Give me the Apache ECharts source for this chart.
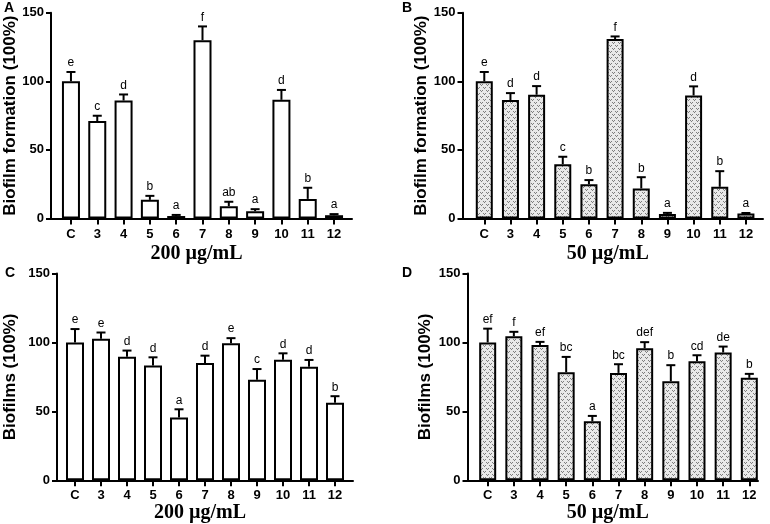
<!DOCTYPE html>
<html>
<head>
<meta charset="utf-8">
<script src="https://cdn.jsdelivr.net/npm/echarts@6/dist/echarts.min.js"></script>
<style>html,body{margin:0;padding:0;background:#fff;}#chart{width:770px;height:524px;}</style>
</head>
<body>
<div id="chart"></div>
<script>
// ---- data ----
const categories = ['C','3','4','5','6','7','8','9','10','11','12'];
const yTicks = [0, 50, 100, 150];

const meanA = [100, 71, 86, 13.6, 1.8, 130, 9, 5.3, 86.5, 14.3, 2.4];
const sdA   = [6.8, 3.9, 4.4, 2.9, 0.8, 10, 3.2, 1.5, 7.2, 8.1, 0.8];
const letA  = ['e','c','d','b','a','f','ab','a','d','b','a'];

const meanB = [100, 86.3, 90.2, 39.6, 25, 130.8, 21.9, 3.2, 89.7, 23.1, 3.6];
const sdB   = [6.8, 5.1, 6.3, 5.4, 3, 1.9, 8.2, 0.9, 6.6, 11.4, 0.4];
const letB  = ['e','d','d','c','b','f','b','a','d','b','a'];

const meanC = [100, 102.6, 89.7, 83.2, 45.5, 85.1, 99.4, 72.9, 87.5, 82.4, 56.2];
const sdC   = [9.7, 4.6, 4.4, 6, 6, 5.3, 3.7, 7.8, 4.6, 4.9, 4.8];
const letC  = ['e','e','d','d','a','d','e','c','d','d','b'];

const meanD = [100, 104.5, 98.2, 78.4, 42.8, 77.9, 95.8, 71.9, 86.4, 92.7, 74.3];
const sdD   = [10, 3.2, 2.2, 11.1, 3.9, 6.3, 4.4, 11.6, 4.3, 4.3, 2.9];
const letD  = ['ef','f','ef','bc','a','bc','def','b','cd','de','b'];

const yTitleTop = 'Biofilm formation (100%)';
const yTitleBottom = 'Biofilms (100%)';
const xTitle200 = '200 µg/mL';
const xTitle50 = '50 µg/mL';

// ---- pattern for dotted bars ----
const pc = document.createElement('canvas');
pc.width = 6; pc.height = 6;
const pctx = pc.getContext('2d');
pctx.fillStyle = '#e9e9e9'; pctx.fillRect(0, 0, 6, 6);
pctx.fillStyle = '#7d7d7d';
[[0,0],[2,0],[1,1],[3,3],[5,3],[4,4]].forEach(p => pctx.fillRect(p[0], p[1], 1, 1));
const patternFill = { image: pc, repeat: 'repeat' };

const SANS = '"Liberation Sans", Arial, sans-serif';
const SERIF = '"Liberation Serif", "Times New Roman", serif';

// ---- panel layout ----
const panels = [
  { mean: meanA, sd: sdA, lab: letA, fill: '#ffffff', yTitle: yTitleTop, xTitle: xTitle200,
    axisX: 51, rightX: 352, innerL: 57.8, innerR: 347.2, top: 12.7, zero: 218.5, nameGap: 32.5, xGap: 25, barW: 18, letter: 'A', lx: 4, ly: 1 },
  { mean: meanB, sd: sdB, lab: letB, fill: patternFill, yTitle: yTitleTop, xTitle: xTitle50,
    axisX: 462.5, rightX: 763, innerL: 471.2, innerR: 759, top: 12.7, zero: 218.5, nameGap: 31, xGap: 25, barW: 17, letter: 'B', lx: 402, ly: 1 },
  { mean: meanC, sd: sdC, lab: letC, fill: '#ffffff', yTitle: yTitleBottom, xTitle: xTitle200,
    axisX: 57, rightX: 353, innerL: 62, innerR: 348, top: 273.5, zero: 480.3, nameGap: 38, xGap: 23, barW: 18, letter: 'C', lx: 5, ly: 266 },
  { mean: meanD, sd: sdD, lab: letD, fill: patternFill, yTitle: yTitleBottom, xTitle: xTitle50,
    axisX: 467.5, rightX: 758, innerL: 474.6, innerR: 762.4, top: 273.5, zero: 480.3, nameGap: 34, xGap: 23, barW: 17, letter: 'D', lx: 402, ly: 266 }
];

const grid = [], xAxis = [], yAxis = [], series = [], graphic = [];

panels.forEach((p, k) => {
  const go = grid.length;
  grid.push({ left: p.axisX, top: p.top, width: p.rightX - p.axisX, height: p.zero - p.top, containLabel: false, outerBoundsMode: 'none' });
  grid.push({ left: p.innerL, top: p.top, width: p.innerR - p.innerL, height: p.zero - p.top, containLabel: false, outerBoundsMode: 'none' });
  // outer axes: axis lines, y labels, titles
  xAxis.push({
    gridIndex: go, type: 'value', min: 0, max: 1,
    axisLine: { show: true, lineStyle: { color: '#000', width: 2 } },
    axisTick: { show: false }, axisLabel: { show: false }, splitLine: { show: false },
    name: p.xTitle, nameLocation: 'middle', nameGap: p.xGap,
    nameTextStyle: { fontFamily: SERIF, fontWeight: 'bold', fontSize: 20, color: '#000', padding: [0, 10, 0, 0] }
  });
  yAxis.push({
    gridIndex: go, type: 'value', min: yTicks[0], max: yTicks[yTicks.length - 1], interval: 50,
    axisLine: { show: true, lineStyle: { color: '#000', width: 2 } },
    axisTick: { show: true, length: 5, lineStyle: { color: '#000', width: 2 } },
    axisLabel: { color: '#000', fontFamily: SANS, fontWeight: 'bold', fontSize: 13, margin: 7 },
    splitLine: { show: false },
    name: p.yTitle, nameLocation: 'middle', nameGap: p.nameGap, nameRotate: 90,
    nameTextStyle: { fontFamily: SANS, fontWeight: 'bold', fontSize: 17, color: '#000' }
  });
  // inner axes: categories
  xAxis.push({
    gridIndex: go + 1, type: 'category', data: categories, boundaryGap: true,
    axisLine: { show: false },
    axisTick: { show: true, alignWithLabel: true, length: 6, lineStyle: { color: '#000', width: 2 } },
    axisLabel: { color: '#000', fontFamily: SANS, fontWeight: 'bold', fontSize: 13, margin: 9, interval: 0 }
  });
  yAxis.push({
    gridIndex: go + 1, type: 'value', min: yTicks[0], max: yTicks[yTicks.length - 1], show: false
  });
  series.push({
    type: 'bar', xAxisIndex: go + 1, yAxisIndex: go + 1, barWidth: p.barW,
    data: p.mean,
    itemStyle: { color: p.fill, borderColor: '#000', borderWidth: 2 },
    silent: true, animation: false
  });
  const labs = p.lab;
  series.push({
    type: 'custom', xAxisIndex: go + 1, yAxisIndex: go + 1, z: 5, clip: false, animation: false,
    data: p.mean.map((m, i) => [i, m, p.sd[i]]),
    encode: { x: 0, y: 1 },
    renderItem: function (params, api) {
      const x = api.value(0), m = api.value(1), s = api.value(2);
      const b = api.coord([x, m]);
      const t = api.coord([x, m + s]);
      const cap = 4.5;
      return {
        type: 'group', children: [
          { type: 'line', shape: { x1: b[0], y1: b[1], x2: t[0], y2: t[1] }, style: { stroke: '#000', lineWidth: 2 } },
          { type: 'line', shape: { x1: t[0] - cap, y1: t[1], x2: t[0] + cap, y2: t[1] }, style: { stroke: '#000', lineWidth: 2 } },
          { type: 'text', style: { text: labs[params.dataIndex], x: t[0], y: t[1] - 9, align: 'center', verticalAlign: 'middle',
              font: '12px ' + SANS, fill: '#000' } }
        ]
      };
    }
  });
  graphic.push({ type: 'text', left: p.lx, top: p.ly,
    style: { text: p.letter, font: 'bold 14px ' + SANS, fill: '#000' } });
});

const chart = echarts.init(document.getElementById('chart'), null, { renderer: 'canvas' });
chart.setOption({
  animation: false,
  backgroundColor: '#fff',
  grid, xAxis, yAxis, series, graphic
});
</script>
</body>
</html>
